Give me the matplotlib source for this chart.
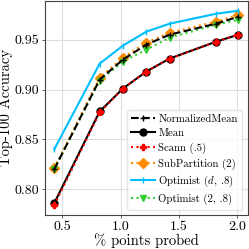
import matplotlib
matplotlib.use("Agg")
import matplotlib.pyplot as plt
from matplotlib.ticker import FuncFormatter

plt.rcParams['font.family'] = ['cmr10', 'DejaVu Serif']
plt.rcParams['mathtext.fontset'] = 'cm'
plt.rcParams['axes.unicode_minus'] = False

x = [0.43, 0.82, 1.02, 1.22, 1.42, 1.82, 2.01]
normalized_mean = [0.820, 0.910, 0.930, 0.945, 0.955, 0.966, 0.973]
mean = [0.786, 0.878, 0.901, 0.918, 0.931, 0.948, 0.955]
scann = [0.784, 0.877, 0.901, 0.918, 0.931, 0.948, 0.955]
subpartition = [0.821, 0.912, 0.932, 0.947, 0.957, 0.968, 0.975]
optimist_d = [0.840, 0.926, 0.944, 0.958, 0.966, 0.976, 0.979]
optimist_2 = [0.820, 0.909, 0.928, 0.940, 0.952, 0.965, 0.970]

labels = ["NormalizedMean", "Mean", "Scann (.5)", "SubPartition (2)",
          r"Optimist ($d$, .8)", "Optimist (2, .8)"]
xlabel = "% points probed"
ylabel = "Top-100 Accuracy"

fig = plt.figure(figsize=(2.49, 2.49), dpi=100)
ax = fig.add_axes([45/249, 34/249, 202.5/249, 214/249])

ax.plot(x, normalized_mean, color='black', ls='--', lw=1.5, marker='+', ms=4, label=labels[0], zorder=4)
ax.plot(x, mean, color='black', ls='-', lw=1.5, marker='o', ms=5, label=labels[1], zorder=3)
ax.plot(x, scann, color='red', ls=':', lw=1.5, marker='P', ms=5, label=labels[2], zorder=5)
ax.plot(x, subpartition, color='darkorange', ls=':', lw=1.5, marker='D', ms=5, label=labels[3], zorder=3)
ax.plot(x, optimist_d, color='deepskyblue', ls='-', lw=1.5, marker='|', ms=4, label=labels[4], zorder=3)
ax.plot(x, optimist_2, color='limegreen', ls=':', lw=1.5, marker='v', ms=5, label=labels[5], zorder=3)

ax.set_xticks([0.5, 1.0, 1.5, 2.0])
ax.set_yticks([0.80, 0.85, 0.90, 0.95])
ax.xaxis.set_major_formatter(FuncFormatter(lambda v, p: f"{v:.1f}"))
ax.yaxis.set_major_formatter(FuncFormatter(lambda v, p: f"{v:.2f}"))
ax.tick_params(labelsize=10, length=2.5, width=0.6, color='#444444', pad=2)
ax.grid(True, color='#dddddd', lw=0.8)
ax.set_axisbelow(True)
for s in ax.spines.values():
    s.set_color('#444444')
    s.set_linewidth(0.8)

ax.set_xlabel(xlabel, fontsize=10.5, labelpad=0)
ax.set_ylabel(ylabel, fontsize=10.5, labelpad=1)

ax.legend(loc='lower right', fontsize=7.8, labelspacing=0.42, handlelength=2.2,
          handletextpad=0.3, borderpad=0.4, borderaxespad=0.5, framealpha=0.8,
          edgecolor='#dddddd')

fig.savefig("out.png", dpi=100)
